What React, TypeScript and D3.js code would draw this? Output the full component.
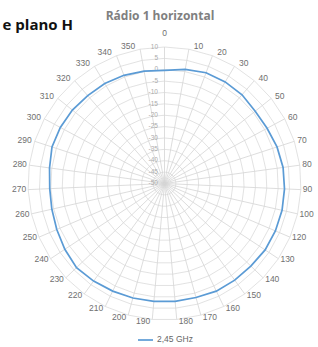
import * as d3 from "d3";

// category labels as they appear on the chart (110 is not in the data)
const categories = [
  "0", "10", "20", "30", "40", "50", "60", "70", "80", "90", "100",
  "120", "130", "140", "150", "160", "170", "180", "190", "200", "210",
  "220", "230", "240", "250", "260", "270", "280", "290", "300", "310",
  "320", "330", "340", "350",
];

// 2,45 GHz, dB
const values = [
  -0.3, 1.0, 2.0, 2.0, 1.8, 1.0, 1.2, 2.0, 2.6, 2.8, 3.0,
  3.0, 3.0, 2.5, 2.5, 2.5, 2.0, 2.0, 2.0, 2.2, 2.5,
  3.0, 3.5, 2.5, 1.5, 0.8, 0.5, 1.0, 2.0, 2.0, 1.8,
  1.3, 1.2, 0.8, 0.2,
];

const radialTicks = [10, 5, 0, -5, -10, -15, -20, -25, -30, -35, -40, -45, -50];

const seriesName = "2,45 GHz";
const title = "Rádio 1 horizontal";
const heading = "e plano H";

export default function App() {
  const width = 318;
  const height = 347;
  const cx = 164.5;
  const cy = 183.5;
  const R = 136.5;

  const angle = d3.scaleLinear().domain([0, categories.length]).range([0, 2 * Math.PI]);
  const r = d3.scaleLinear().domain([-50, 10]).range([0, R]);

  const ring = (t: number) =>
    d3.lineRadial<string>()
      .angle((_, i) => angle(i))
      .radius(() => r(t))
      .curve(d3.curveLinearClosed)(categories);

  const dataLine = d3.lineRadial<number>()
    .angle((_, i) => angle(i))
    .radius((d) => r(d))
    .curve(d3.curveLinearClosed);

  const labelFont = 8.5;

  return (
    <svg
      width={width}
      height={height}
      style={{ position: "absolute", left: 0, top: 0, background: "#fff" }}
      fontFamily="'Liberation Sans', Arial, sans-serif"
    >
      <text x={73} y={30} textAnchor="end" fontSize={15} fontWeight={700}
        fontFamily="'Open Sans', sans-serif" fill="#111">
        {heading}
      </text>
      <text x={160} y={20} textAnchor="middle" fontSize={12} fontWeight={700}
        fontFamily="'Open Sans', sans-serif" fill="#808080">
        {title}
      </text>

      <g transform={`translate(${cx},${cy})`}>
        {radialTicks.filter((t) => t > -50).map((t) => (
          <path key={t} d={ring(t) ?? ""} fill="none" stroke="#dadada" strokeWidth={0.8} />
        ))}
        {categories.map((c, i) => {
          const a = angle(i);
          return (
            <line key={c} x1={0} y1={0} x2={R * Math.sin(a)} y2={-R * Math.cos(a)}
              stroke="#d4d4d4" strokeWidth={0.8} />
          );
        })}

        {radialTicks.map((t) => (
          <text key={t} x={-6.5} y={-r(t)} textAnchor="end" dominantBaseline="middle"
            fontSize={6.5} fill="#ababab">
            {t}
          </text>
        ))}

        <path d={dataLine(values) ?? ""} fill="none" stroke="#5b9bd5" strokeWidth={1.7} />

        {categories.map((c, i) => {
          const a = angle(i);
          const s = Math.sin(a);
          const co = Math.cos(a);
          const w = c.length * labelFont * 0.556;
          // label box sits beside the spoke end, the top one sits above it
          const side = Math.abs(s) < 0.01 ? 0 : Math.sign(s);
          const dx = side * (w / 2 + 2 + 3 * Math.max(co, 0));
          const dy = side === 0 && co > 0 ? -13 : co > 0 ? -3 * co : -2.5 * co;
          return (
            <text key={c} x={R * s + dx} y={-R * co + dy} textAnchor="middle"
              dominantBaseline="middle" fontSize={labelFont} fill="#707070">
              {c}
            </text>
          );
        })}
      </g>

      <line x1={138} x2={153} y1={340} y2={340} stroke="#5b9bd5" strokeWidth={1.7} />
      <text x={157} y={340} dominantBaseline="middle" fontSize={8.5} fill="#666">
        {seriesName}
      </text>
    </svg>
  );
}
